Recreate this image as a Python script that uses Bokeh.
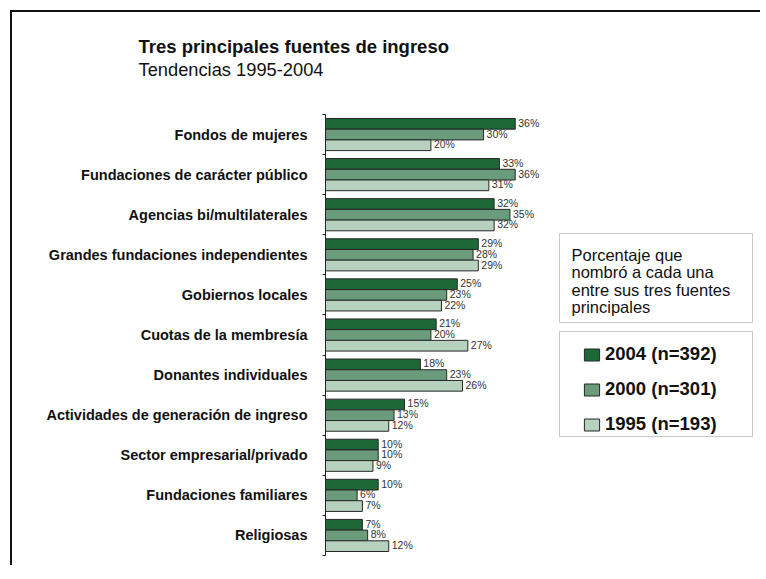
from bokeh.plotting import figure
from bokeh.models import (Range1d, FixedTicker, BoxAnnotation, Label, Legend,
                          LegendItem, ColumnDataSource, Title)
from bokeh.embed import file_html
from bokeh.resources import INLINE
from bokeh.core.properties import value

# ---------------- data ----------------
categories = [
    "Fondos de mujeres",
    "Fundaciones de carácter público",
    "Agencias bi/multilaterales",
    "Grandes fundaciones independientes",
    "Gobiernos locales",
    "Cuotas de la membresía",
    "Donantes individuales",
    "Actividades de generación de ingreso",
    "Sector empresarial/privado",
    "Fundaciones familiares",
    "Religiosas",
]
v2004 = [36, 33, 32, 29, 25, 21, 18, 15, 10, 10, 7]
v2000 = [30, 36, 35, 28, 23, 20, 23, 13, 10, 6, 8]
v1995 = [20, 31, 32, 29, 22, 27, 26, 12, 9, 7, 12]
series_labels = ["2004 (n=392)", "2000 (n=301)", "1995 (n=193)"]
title_text = "Tres principales fuentes de ingreso"
subtitle_text = "Tendencias 1995-2004"
note_lines = ["Porcentaje que", "nombró a cada una", "entre sus tres fuentes", "principales"]

# ---------------- styling / layout ----------------
FONT = "Liberation Sans"
colors = ["#1e6838", "#6a9c7b", "#b6d2bf"]
ORIGIN = 0                       # canvas origin on the page
W, H = 760, 565
FRAME_LEFT, FRAME_TOP, FRAME_BOTTOM = 325, 114, 555   # page pixels
PX_PER_PCT = 5.27
frame_w = W - (FRAME_LEFT - ORIGIN)

def sx(px):
    return px - FRAME_LEFT

def sy(py):
    return FRAME_BOTTOM - py

n = len(categories)
centers = [n - 1 - i for i in range(n)]
bh = 0.267
offsets = [bh, 0.0, -bh]

# the slide's frame lines (top and left only), painted as the element's background
slide_lines = {
    "background-color": "white",
    "background-image": "linear-gradient(#111111, #111111), linear-gradient(#111111, #111111)",
    "background-size": "calc(100% - 10px) 2px, 2px calc(100% - 10px)",
    "background-position": "10px 10px, 10px 10px",
    "background-repeat": "no-repeat",
}

p = figure(width=W, height=H, output_backend="svg", toolbar_location=None,
           x_axis_location=None,
           x_range=Range1d(0, frame_w / PX_PER_PCT),
           y_range=Range1d(-0.5, n - 0.5),
           min_border_left=FRAME_LEFT - ORIGIN, min_border_top=FRAME_TOP - ORIGIN,
           min_border_bottom=ORIGIN + H - FRAME_BOTTOM, min_border_right=0,
           styles=slide_lines)
p.outline_line_color = None
p.xgrid.visible = False
p.ygrid.visible = False
p.background_fill_color = "white"
p.border_fill_color = None

renderers = []
for vals, off, col in zip([v2004, v2000, v1995], offsets, colors):
    src = ColumnDataSource(dict(
        y=[c + off for c in centers],
        v=vals,
        lbl=[f"{v}%" for v in vals],
    ))
    r = p.hbar(y="y", left=0, right="v", height=bh, source=src,
               fill_color=col, line_color="#262626", line_width=1)
    renderers.append(r)
    p.text(x="v", y="y", text="lbl", source=src, x_offset=3, y_offset=-1,
           text_font=value(FONT), text_font_size="10.5px", text_color="#333333",
           text_baseline="middle", text_align="left")

# y axis: labels at category centres, ticks at group boundaries
ax = p.yaxis[0]
ax.ticker = FixedTicker(ticks=centers, minor_ticks=[c + 0.5 for c in range(-1, n)])
ax.major_label_overrides = {c: lab for c, lab in zip(centers, categories)}
ax.major_tick_out = 0
ax.major_tick_in = 0
ax.minor_tick_out = 3
ax.minor_tick_in = 0
ax.minor_tick_line_color = "#222222"
ax.axis_line_color = "#222222"
ax.major_label_standoff = 15
ax.major_label_text_font = FONT
ax.major_label_text_font_style = "bold"
ax.major_label_text_font_size = "14.5px"
ax.major_label_text_color = "#111111"

# titles: a blank spacer panel next to the frame, then subtitle, then title
p.add_layout(Title(text=" ", standoff=12, text_font=FONT,
                   text_font_size="18.3px"), "above")
p.add_layout(Title(text=subtitle_text, align="left", offset=138 - FRAME_LEFT,
                   standoff=0, text_font=FONT, text_font_style="normal",
                   text_font_size="18.3px", text_color="#111111"), "above")
p.add_layout(Title(text=title_text, align="left", offset=138 - FRAME_LEFT,
                   standoff=0, text_font=FONT, text_font_style="bold",
                   text_font_size="18.5px", text_color="#111111"), "above")

# note box
p.add_layout(BoxAnnotation(left=sx(559), right=sx(752), top=sy(233), bottom=sy(322),
                           left_units="screen", right_units="screen",
                           top_units="screen", bottom_units="screen",
                           fill_alpha=0, line_color="#444444", line_width=1))
for k, line in enumerate(note_lines):
    p.add_layout(Label(x=sx(571), y=sy(254.5 + 17.3 * k), x_units="screen", y_units="screen",
                       text=line, text_font=FONT, text_font_size="16.5px",
                       text_color="#111111", text_baseline="alphabetic"))

# legend box
p.add_layout(BoxAnnotation(left=sx(559), right=sx(752), top=sy(331), bottom=sy(436),
                           left_units="screen", right_units="screen",
                           top_units="screen", bottom_units="screen",
                           fill_alpha=0, line_color="#444444", line_width=1))
legend = Legend(items=[LegendItem(label=l, renderers=[r]) for l, r in zip(series_labels, renderers)],
                location=(sx(584) - 2, sy(435)),
                border_line_color=None, background_fill_alpha=0,
                padding=0, margin=0, spacing=13, label_height=20,
                glyph_width=19, glyph_height=15, label_standoff=4,
                label_text_font=FONT, label_text_font_style="bold",
                label_text_font_size="18.5px", label_text_color="#111111")
p.add_layout(legend)

open("out.html", "w").write(file_html(p, INLINE))
